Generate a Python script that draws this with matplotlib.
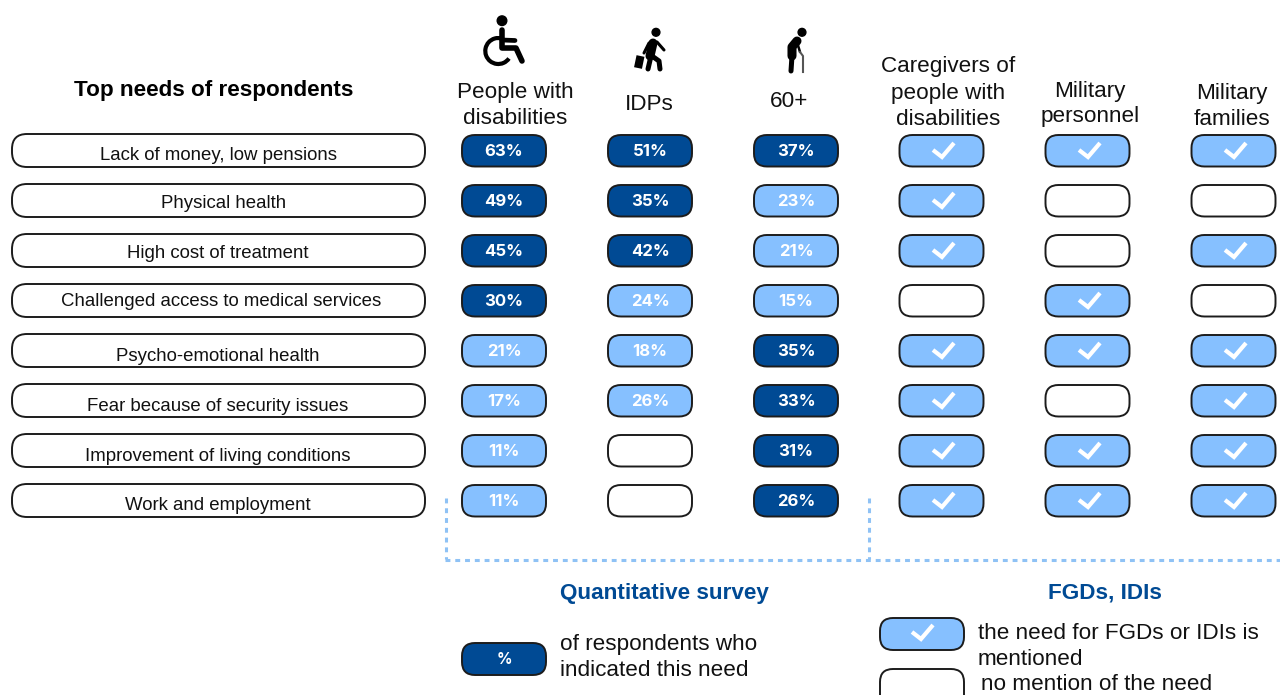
import matplotlib
matplotlib.use("Agg")
import matplotlib.pyplot as plt
from matplotlib.patches import FancyBboxPatch, Circle, Arc

plt.rcParams['font.family'] = ['Liberation Sans', 'DejaVu Sans']

needs = ["Lack of money, low pensions", "Physical health", "High cost of treatment",
         "Challenged access to medical services", "Psycho-emotional health",
         "Fear because of security issues", "Improvement of living conditions",
         "Work and employment"]

# survey shares, None = need not in the top list for the group
disabled_pct = [63, 49, 45, 30, 21, 17, 11, 11]
idp_pct = [51, 35, 42, 24, 18, 26, None, None]
old_pct = [37, 23, 21, 15, 35, 33, 31, 26]

# which shares are highlighted dark in the source
disabled_dark = [True, True, True, True, False, False, False, False]
idp_dark = [True, True, True, False, False, False, False, False]
old_dark = [True, False, False, False, True, True, True, True]

# mentioned in FGDs / IDIs
caregivers = [True, True, True, False, True, True, True, True]
personnel = [True, False, False, True, True, False, True, True]
families = [True, False, True, False, True, True, True, True]

DARK = "#004a94"
LIGHT = "#86c0ff"
EDGE = "#1c1c1c"
DOTS = "#8fc2f5"

fig = plt.figure(figsize=(12.8, 6.95), dpi=100)
ax = fig.add_axes([0, 0, 1, 1])
ax.set_xlim(0, 1280)
ax.set_ylim(695, 0)
ax.axis("off")


def pill(x0, y0, w, h, fc, r=13):
    ax.add_patch(FancyBboxPatch((x0, y0), w, h, boxstyle=f"round,pad=0,rounding_size={r}",
                                fc=fc, ec=EDGE, lw=1.4, zorder=2))


def check(cx, cy):
    ax.plot([cx - 9, cx, cx + 12], [cy, cy + 7, cy - 7], color="white", lw=3,
            solid_joinstyle="miter", solid_capstyle="butt", zorder=3)


def label(x, y, s, size=16.2, **kw):
    ax.text(x, y, s, fontsize=size, ha=kw.pop("ha", "center"), va="baseline", color=kw.pop("color", "#111111"), **kw)


# row boxes
row_y = [134, 184, 234, 284, 334, 384, 434, 484]
label_x = [218, 224, 218, 221, 218, 218, 218, 218]
label_base = [160, 208, 258, 306, 361, 411, 461, 510]
for i, need in enumerate(needs):
    pill(12, row_y[i], 413, 33, "white", r=15)
    label(label_x[i], label_base[i], need, size=13.45)

# survey columns
for x0, vals, dark in [(462, disabled_pct, disabled_dark), (608, idp_pct, idp_dark), (754, old_pct, old_dark)]:
    for i, v in enumerate(vals):
        if v is None:
            pill(x0, row_y[i] + 1, 84, 31.5, "white")
            continue
        pill(x0, row_y[i] + 1, 84, 31.5, DARK if dark[i] else LIGHT)
        ax.text(x0 + 42, row_y[i] + 22.5, f"{v}%", fontsize=12, fontweight="bold", family="Inter",
                color="white", ha="center", va="baseline", zorder=3)

# FGD columns
for x0, vals in [(899.5, caregivers), (1045.5, personnel), (1191.5, families)]:
    for i, v in enumerate(vals):
        pill(x0, row_y[i] + 1, 84, 31.5, LIGHT if v else "white")
        if v:
            check(x0 + 42.5, row_y[i] + 16)

# headers
label(214, 96, "Top needs of respondents", size=16.2, fontweight="bold", color="black")
label(515, 98, "People with")
label(515, 124, "disabilities")
label(649, 110, "IDPs")
label(789, 107, "60+")
label(948, 72, "Caregivers of")
label(948, 99, "people with")
label(948, 125, "disabilities")
label(1090, 97, "Military")
label(1090, 122, "personnel")
label(1232, 99, "Military")
label(1232, 125, "families")

# wheelchair icon
ax.add_patch(Circle((502, 20.7), 4.8, color="black"))
ax.plot([502, 502, 516, 522], [30, 48, 48, 61], color="black", lw=4, solid_capstyle="round", solid_joinstyle="round")
ax.plot([502, 515], [40, 40.5], color="black", lw=3.4, solid_capstyle="round")
ax.add_patch(Arc((498.3, 51), 26, 26, theta1=35, theta2=285, color="black", lw=3))

# traveller icon
ax.add_patch(Circle((656, 32.3), 3.9, color="black"))
ax.plot([653, 650], [43, 56], color="black", lw=6.5, solid_capstyle="round")
ax.plot([651, 648], [56, 69], color="black", lw=3.6, solid_capstyle="round")
ax.plot([652, 659, 660], [56, 61, 69], color="black", lw=3.6, solid_capstyle="round", solid_joinstyle="round")
ax.plot([657, 664], [42, 50], color="black", lw=2.2, solid_capstyle="round")
ax.plot([649, 644], [43, 53], color="black", lw=2.2, solid_capstyle="round")
ax.plot([640.5, 638], [56, 68], color="black", lw=5.8, solid_capstyle="butt")

# old person icon
ax.add_patch(Circle((802, 32.3), 3.9, color="black"))
ax.plot([797, 792, 792], [41, 47, 56], color="black", lw=6.5, solid_capstyle="round", solid_joinstyle="round")
ax.plot([792, 791], [56, 71], color="black", lw=3.6, solid_capstyle="round")
ax.plot([797, 800], [42, 52], color="black", lw=1.8, solid_capstyle="round")
ax.plot([800, 803, 803], [52, 56, 72], color="#555555", lw=1.5)

# dotted bracket
for xs, ys in [([445.5, 445.5], [498, 559]), ([869, 869], [498, 559]), ([445, 1280], [559.5, 559.5])]:
    ax.plot(xs, ys, color=DOTS, lw=2.2, linestyle=(0, (1.6, 1.6)))

# legend
label(664, 599, "Quantitative survey", size=16.2, fontweight="bold", color=DARK)
label(1105, 599, "FGDs, IDIs", size=16.2, fontweight="bold", color=DARK)

pill(462, 643, 84, 32, DARK)
ax.text(504, 664, "%", fontsize=11, fontweight="bold", family="Inter", color="white", ha="center", va="baseline", zorder=3)
label(560, 650, "of respondents who", ha="left", size=16.2)
label(560, 676, "indicated this need", ha="left", size=16.2)

pill(880, 618, 84, 32, LIGHT)
check(921, 632)
pill(880, 669, 84, 40, "white")
label(978, 639, "the need for FGDs or IDIs is", ha="left", size=16.2)
label(978, 665, "mentioned", ha="left", size=16.2)
label(981, 690, "no mention of the need", ha="left", size=16.2)

fig.savefig("out.png", dpi=100)
